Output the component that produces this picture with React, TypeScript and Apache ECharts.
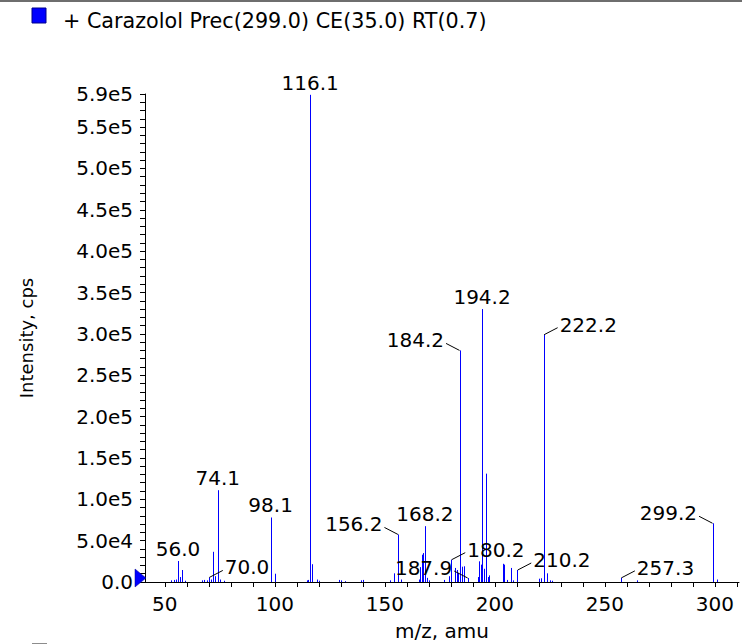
import React, { useEffect, useRef } from "react";
import * as echarts from "echarts";

// ---- data ----
const peakMz = [
  53.0, 54.0, 55.0, 56.0, 57.0, 58.0, 59.0, 67.0, 68.0, 69.0, 70.0, 71.0, 72.0, 73.0, 74.1, 75.0, 77.0,
  98.1, 100.1, 114.5, 115.2, 116.1, 117.1, 119.0, 120.0, 129.0, 130.0, 132.0, 139.0, 140.0,
  152.2, 154.3, 156.2, 157.2, 165.5, 166.0, 166.7, 167.2, 168.2, 169.0, 170.0, 177.0, 179.0,
  180.2, 182.0, 182.8, 183.4, 184.2, 185.2, 185.8, 187.9, 192.2, 193.0, 193.6, 194.2, 195.2,
  196.1, 196.8, 197.5, 203.9, 204.4, 205.4, 207.2, 208.4, 210.2, 220.2, 221.0, 222.2, 223.9,
  225.0, 226.2, 257.3, 264.5, 299.2, 300.9,
];
const peakIntensity = [
  2000, 2500, 3000, 25400, 6000, 14500, 1500, 2000, 2500, 2000, 5500, 3000, 36500, 7000, 111000, 3000, 1500,
  78000, 10000, 2000, 2500, 589000, 21500, 3000, 1500, 2500, 2000, 1000, 2000, 2500,
  2000, 10500, 57500, 3000, 3000, 18000, 33000, 35000, 67500, 5000, 2000, 2500, 7000,
  27000, 17000, 14500, 11000, 280000, 18500, 19000, 4800, 6000, 25000, 21000, 330000, 16000,
  131000, 6000, 8000, 22000, 21000, 2500, 17000, 2000, 14500, 4000, 4500, 299000, 10500,
  2000, 1500, 5000, 2000, 71000, 3000,
];
const labelTexts = [
  "56.0", "70.0", "74.1", "98.1", "116.1", "156.2", "168.2", "180.2", "184.2", "187.9",
  "194.2", "210.2", "222.2", "257.3", "299.2",
];
// layout: where each peak label sits relative to its peak
const labelSide = [
  "top", "right", "top", "top", "top", "left", "top", "right", "left", "left",
  "top", "right", "right", "right", "left",
];

const xTickValues = [50, 60, 70, 80, 90, 100, 110, 120, 130, 140, 150, 160, 170, 180, 190, 200, 210, 220, 230, 240, 250, 260, 270, 280, 290, 300, 310];
const xLabelValues = [50, 100, 150, 200, 250, 300];
const yLabelValues = [0, 50000, 100000, 150000, 200000, 250000, 300000, 350000, 400000, 450000, 500000, 550000, 590000];
const yTickValues: number[] = [];
for (let v = 0; v <= 590000; v += 10000) yTickValues.push(v);

const titleText = "+ Carazolol Prec(299.0) CE(35.0) RT(0.7)";
const FONT = "DejaVu Sans";

export default function App() {
  const ref = useRef<HTMLDivElement>(null);
  useEffect(() => {
    if (!ref.current) return;
    const chart = echarts.init(ref.current, null, { renderer: "svg" });
    const peaks = peakMz.map((m, i) => [m, peakIntensity[i]]);
    const labelData = labelTexts.map((t, i) => {
      const mz = parseFloat(t);
      const idx = peakMz.indexOf(mz);
      return [mz, peakIntensity[idx], i];
    });
    const textStyleBase = { fill: "#000", fontSize: 20, fontFamily: FONT };
    chart.setOption({
      animation: false,
      backgroundColor: "#fff",
      grid: { left: 145, top: 94, right: 3, bottom: 62, containLabel: false, outerBoundsMode: "none" },
      xAxis: {
        type: "value",
        min: 41,
        max: 311,
        axisLine: { show: true, lineStyle: { color: "#000", width: 1 } },
        axisTick: { show: true, length: 5, customValues: xTickValues, lineStyle: { color: "#000" } },
        axisLabel: { customValues: xLabelValues, margin: 12, color: "#000", fontSize: 20, fontFamily: FONT },
        splitLine: { show: false },
      },
      yAxis: {
        type: "value",
        min: 0,
        max: 590000,
        interval: 50000,
        axisLine: { show: true, lineStyle: { color: "#000", width: 1 } },
        axisTick: { show: true, length: 5, customValues: yTickValues, lineStyle: { color: "#000" } },
        axisLabel: {
          customValues: yLabelValues,
          showMaxLabel: true,
          margin: 12,
          color: "#000",
          fontSize: 20,
          fontFamily: FONT,
          formatter: (v: number) => (v === 0 ? "0.0" : v.toExponential(1).replace("e+", "e")),
        },
        splitLine: { show: false },
      },
      series: [
        {
          type: "custom",
          silent: true,
          data: peaks,
          encode: { x: 0, y: 1 },
          renderItem: (_p: any, api: any) => {
            const x = api.value(0);
            const y = api.value(1);
            const a = api.coord([x, 0]);
            const b = api.coord([x, y]);
            const px = Math.round(a[0]) + 0.5;
            return {
              type: "line",
              shape: { x1: px, y1: a[1], x2: px, y2: b[1] },
              style: { stroke: "#0000ff", lineWidth: 1 },
            };
          },
        },
        {
          type: "custom",
          silent: true,
          clip: false,
          z: 5,
          data: labelData,
          encode: { x: 0, y: 1 },
          renderItem: (_p: any, api: any) => {
            const x = api.value(0);
            const y = api.value(1);
            const i = api.value(2);
            const p = api.coord([x, y]);
            const side = labelSide[i];
            const text = labelTexts[i];
            if (side === "top") {
              return {
                type: "text",
                style: { ...textStyleBase, text, x: p[0], y: p[1] - 12, align: "center", verticalAlign: "middle" },
              };
            }
            const s = side === "left" ? -1 : 1;
            const ex = p[0] + s * 14;
            const ey = p[1] - 7;
            return {
              type: "group",
              children: [
                {
                  type: "line",
                  shape: { x1: p[0] + s * 0.5, y1: p[1], x2: ex, y2: ey },
                  style: { stroke: "#000", lineWidth: 1 },
                },
                {
                  type: "text",
                  style: {
                    ...textStyleBase,
                    text,
                    x: ex + s * 2,
                    y: ey - 3,
                    align: s < 0 ? "right" : "left",
                    verticalAlign: "middle",
                  },
                },
              ],
            };
          },
        },
      ],
      graphic: [
        { type: "rect", shape: { x: 0, y: 0, width: 742, height: 2 }, style: { fill: "#6e6e6e" } },
        { type: "rect", shape: { x: 32, y: 8, width: 14, height: 15 }, style: { fill: "#0000ff", stroke: "#00008a", lineWidth: 1 } },
        {
          type: "text",
          x: 63,
          y: 20.5,
          style: { ...textStyleBase, fontSize: 20.7, text: titleText, verticalAlign: "middle", align: "left" },
        },
        {
          type: "text",
          x: 442,
          y: 630.7,
          style: { ...textStyleBase, text: "m/z, amu", align: "center", verticalAlign: "middle" },
        },
        {
          type: "text",
          x: 26.8,
          y: 338,
          rotation: Math.PI / 2,
          style: { ...textStyleBase, fontSize: 18, text: "Intensity, cps", align: "center", verticalAlign: "middle" },
        },
        {
          type: "polygon",
          shape: { points: [[135, 569], [146, 578], [135, 587]] },
          style: { fill: "#0000ff", stroke: "#00008a", lineWidth: 0.5 },
          z: 10,
        },
        { type: "rect", shape: { x: 32, y: 643, width: 15, height: 6 }, style: { fill: "#8c8c8c" } },
      ],
    });
    return () => chart.dispose();
  }, []);
  return (
    <div
      ref={ref}
      style={{ position: "fixed", left: 0, top: 0, width: 742, height: 644, background: "#fff" }}
    />
  );
}
